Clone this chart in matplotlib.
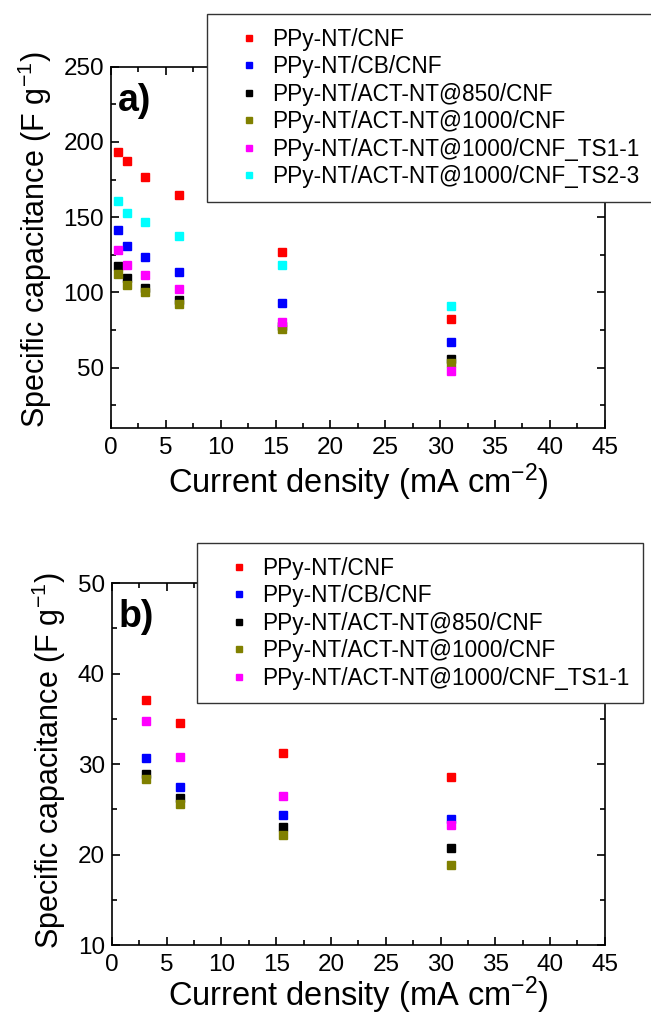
import numpy as np
import matplotlib
matplotlib.use('Agg')
import matplotlib.pyplot as plt
from matplotlib.ticker import MultipleLocator

plt.rcParams['font.family'] = ['Liberation Sans', 'DejaVu Sans']
plt.rcParams['mathtext.fontset'] = 'custom'
plt.rcParams['mathtext.rm'] = 'Liberation Sans'
plt.rcParams['mathtext.it'] = 'Liberation Sans'
plt.rcParams['mathtext.default'] = 'regular'

# panel a data
x_a = [0.6, 1.5, 3.1, 6.2, 15.6, 31.0]
red_a = [193, 187.5, 177, 164.5, 127, 82.5]
blue_a = [141.5, 131, 123.5, 113.5, 93, 67]
black_a = [117.5, 109.5, 103, 95, 77.5, 55.5]
olive_a = [112, 105, 100, 92.5, 75.5, 53]
magenta_a = [128, 118, 111.5, 102, 80, 48]
cyan_a = [161, 153, 146.5, 137.5, 118, 91]

# panel b data
x_b = [3.1, 6.2, 15.6, 31.0]
red_b = [37.1, 34.5, 31.2, 28.6]
blue_b = [30.7, 27.5, 24.4, 23.9]
black_b = [28.9, 26.3, 23.1, 20.7]
olive_b = [28.4, 25.6, 22.2, 18.9]
magenta_b = [34.8, 30.8, 26.5, 23.3]

labels = ['PPy-NT/CNF', 'PPy-NT/CB/CNF', 'PPy-NT/ACT-NT@850/CNF',
          'PPy-NT/ACT-NT@1000/CNF', 'PPy-NT/ACT-NT@1000/CNF_TS1-1',
          'PPy-NT/ACT-NT@1000/CNF_TS2-3']
colors = ['#ff0000', '#0000ff', '#000000', '#808000', '#ff00ff', '#00ffff']

fig = plt.figure(figsize=(6.51, 10.15), dpi=100)
ax1 = fig.add_axes([0.1705, 0.5786, 0.7585, 0.3557])
ax2 = fig.add_axes([0.172, 0.0687, 0.7570, 0.3569])


def style_axis(ax, ylab_y, xpad):
    ax.set_xlim(0, 45)
    ax.xaxis.set_major_locator(MultipleLocator(5))
    ax.xaxis.set_minor_locator(MultipleLocator(2.5))
    ax.tick_params(which='both', direction='in', top=True, right=True,
                   labelsize=17.5, width=1.2, pad=5)
    ax.tick_params(axis='x', which='both', pad=6.5)
    ax.tick_params(which='major', length=6)
    ax.tick_params(which='minor', length=3.5)
    for s in ax.spines.values():
        s.set_linewidth(1.2)
    ax.set_xlabel('Current density (mA cm$^{-2}$)', fontsize=23.5, labelpad=xpad)
    ax.set_ylabel('Specific capacitance (F g$^{-1}$)', fontsize=22, labelpad=7)
    ax.yaxis.label.set_y(ylab_y)


def add_legend(ax, left, top):
    leg = ax.legend(loc='upper left', bbox_to_anchor=(left / 651, 1 - top / 1015),
                    bbox_transform=fig.transFigure, fontsize=16.3, frameon=True,
                    fancybox=False, framealpha=1, markerscale=0.75,
                    handlelength=2.5, handletextpad=-0.2, labelspacing=0.2,
                    borderpad=0.6, borderaxespad=0)
    leg.get_frame().set_edgecolor('#333333')
    leg.get_frame().set_linewidth(1.0)
    leg.set_zorder(10)
    return leg


series_a = [red_a, blue_a, black_a, olive_a, magenta_a, cyan_a]
for ys, c, lab in zip(series_a, colors, labels):
    ax1.plot(x_a, ys, 's', color=c, markersize=6, label=lab, linestyle='none')
ax1.set_ylim(10, 250)
ax1.yaxis.set_major_locator(MultipleLocator(50))
ax1.yaxis.set_minor_locator(MultipleLocator(25))
style_axis(ax1, 0.52, 2)
ax1.text(0.014, 0.955, 'a)', transform=ax1.transAxes, fontsize=27,
         fontweight='bold', va='top', ha='left')
add_legend(ax1, 206.7, 14)

series_b = [red_b, blue_b, black_b, olive_b, magenta_b]
for ys, c, lab in zip(series_b, colors, labels):
    ax2.plot(x_b, ys, 's', color=c, markersize=6, label=lab, linestyle='none')
ax2.set_ylim(10, 50)
ax2.yaxis.set_major_locator(MultipleLocator(10))
ax2.yaxis.set_minor_locator(MultipleLocator(5))
style_axis(ax2, 0.51, -1)
ax2.text(0.014, 0.955, 'b)', transform=ax2.transAxes, fontsize=27,
         fontweight='bold', va='top', ha='left')
add_legend(ax2, 196.7, 543)

plt.savefig('out.png', dpi=100)
